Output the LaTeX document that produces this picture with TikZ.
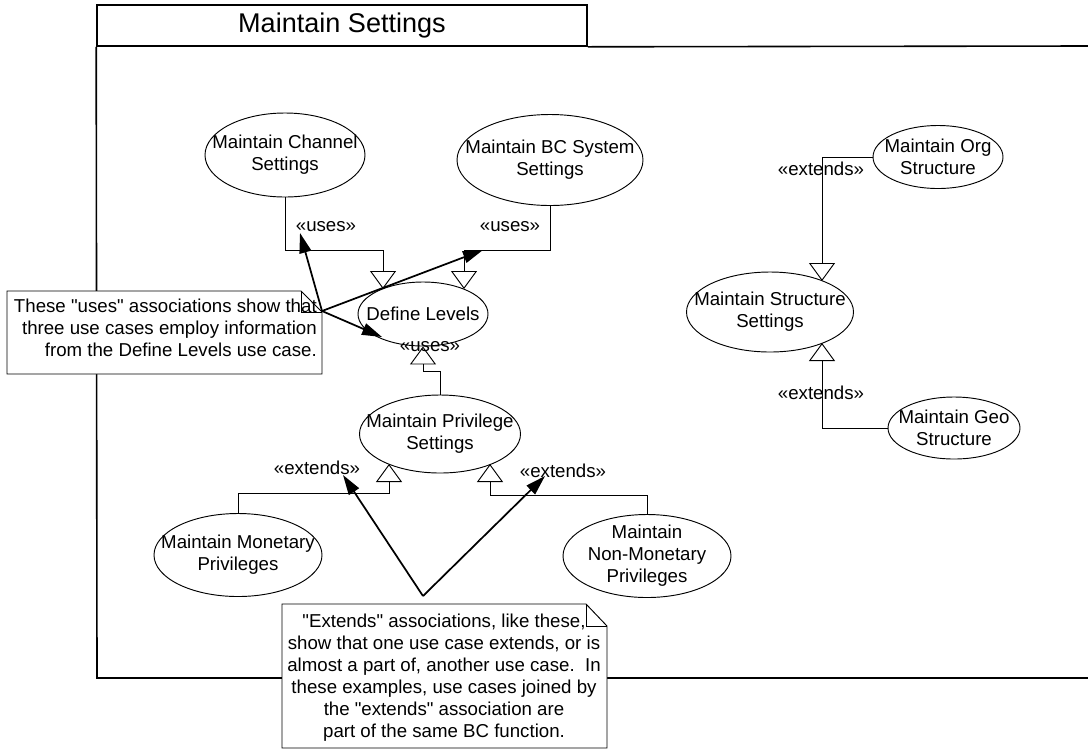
\documentclass[tikz,border=0pt]{standalone}
\usepackage{fontspec}
\newfontfamily\diagfont{Liberation Sans}
\usetikzlibrary{arrows.meta,shapes.geometric,calc}
\begin{document}
\begin{tikzpicture}[x=0.75pt,y=-0.75pt,
  font=\diagfont\fontsize{14}{16.5}\selectfont,
  frame/.style={line width=1.2pt},
  usecase/.style n args={3}{ellipse,draw,line width=0.7pt,fill=white,inner sep=0pt,
    minimum width=#1,minimum height=#2,label={[align=center]center:{#3}}},
  gen/.style={line width=0.7pt,-{Triangle[open,length=13.5pt,width=19.5pt]}},
  notearrow/.style={line width=1.3pt,-{Triangle[length=15pt,width=9pt]}},
  stereo/.style={inner sep=0pt},
  notebox/.style={draw,line width=0.7pt,fill=white},
  fold/.style={line width=0.7pt}]
\useasboundingbox (0,0) rectangle (1088,751);

% package frame with its name tab
\node[draw,frame,minimum width=367.5pt,minimum height=30.75pt,inner sep=0pt,
      font=\diagfont\fontsize{20.3}{24}\selectfont] (tab) at (342,25.5) {Maintain Settings};
\draw[frame] (tab.south east) -- (1088,46);
\draw[frame] (tab.south west) -- (97,678) -- (1088,678);

% use cases
\node[usecase={120pt}{63pt}{Maintain Channel\\Settings}] (chan) at (285,155) {};
\node[usecase={139.5pt}{68.25pt}{Maintain BC System\\Settings}] (bc) at (550,160) {};
\node[usecase={97.5pt}{48pt}{Define Levels}] (dl) at (423,314) {};
\node[usecase={120.75pt}{58.5pt}{Maintain Privilege\\Settings}] (priv) at (440,434) {};
\node[usecase={126pt}{62.25pt}{Maintain Monetary\\Privileges}] (mon) at (238,555) {};
\node[usecase={126pt}{62.25pt}{Maintain\\Non-Monetary\\Privileges}] (nonmon) at (647,556) {};
\node[usecase={97.5pt}{47.25pt}{Maintain Org\\Structure}] (org) at (938,157) {};
\node[usecase={125.25pt}{60pt}{Maintain Structure\\Settings}] (struct) at (770,312) {};
\node[usecase={99pt}{46.5pt}{Maintain Geo\\Structure}] (geo) at (954,428) {};

% uses / extends relations
\draw[gen] (chan.south) |- ($(dl.center)+(-40,-64)$) -- ($(dl.center)+(-40,-25)$);
\draw[gen] (bc.south) |- ($(dl.center)+(41,-64)$) -- ($(dl.center)+(41,-25)$);
\draw[gen] (priv.north) |- ($(dl.south)+(0,25)$) -- (dl.south);
\draw[gen] (mon.north) |- ($(priv.center)+(-51,59)$) -- ($(priv.center)+(-51,30)$);
\draw[gen] (nonmon.north) |- ($(priv.center)+(50,61)$) -- ($(priv.center)+(50,30)$);
\draw[gen] (org.west) -| ($(struct.center)+(52,-31)$);
\draw[gen] (geo.west) -| ($(struct.center)+(52,31)$);

% stereotype labels
\node[stereo] (u1) at (326,227) {«uses»};
\node[stereo] (u2) at (510,227) {«uses»};
\node[stereo] (u3) at (430,347) {«uses»};
\node[stereo] (e1) at (317,468) {«extends»};
\node[stereo] (e2) at (563,471) {«extends»};
\node[stereo] (e3) at (821,169) {«extends»};
\node[stereo] (e4) at (821,393) {«extends»};

% note on the uses relations
\path[notebox] (7,291) -- (301,291) -- (322,312) -- (322,374) -- (7,374) -- cycle;
\draw[fold] (301,291) -- (301,312) -- (322,312);
\node[anchor=east,align=right,inner sep=0pt] (usesnote) at (317,328)
  {These "uses" associations show that\\three use cases employ information\\from the Define Levels use case.};

% note on the extends relations
\path[notebox] (282,604) -- (586,604) -- (607,626) -- (607,748) -- (282,748) -- cycle;
\draw[fold] (586,604) -- (586,626) -- (607,626);
\node[align=center,inner sep=0pt] (extnote) at (444,678)
  {"Extends" associations, like these,\\show that one use case extends, or is\\almost a part of, another use case.\ \ In\\these examples, use cases joined by\\the "extends" association are\\part of the same BC function.};

% note pointers
\coordinate (usesrc) at (322,311);
\coordinate (extsrc) at (423,596);
\coordinate (tu1) at (300,233);
\coordinate (tu2) at (483,250);
\coordinate (tdl) at (382,337);
\coordinate (te1) at (343,475);
\coordinate (te2) at (545,476);
\draw[notearrow] (usesrc) -- (tu1);
\draw[notearrow] (usesrc) -- (tu2);
\draw[notearrow] (usesrc) -- (tdl);
\draw[notearrow] (extsrc) -- (te1);
\draw[notearrow] (extsrc) -- (te2);
\end{tikzpicture}
\end{document}
